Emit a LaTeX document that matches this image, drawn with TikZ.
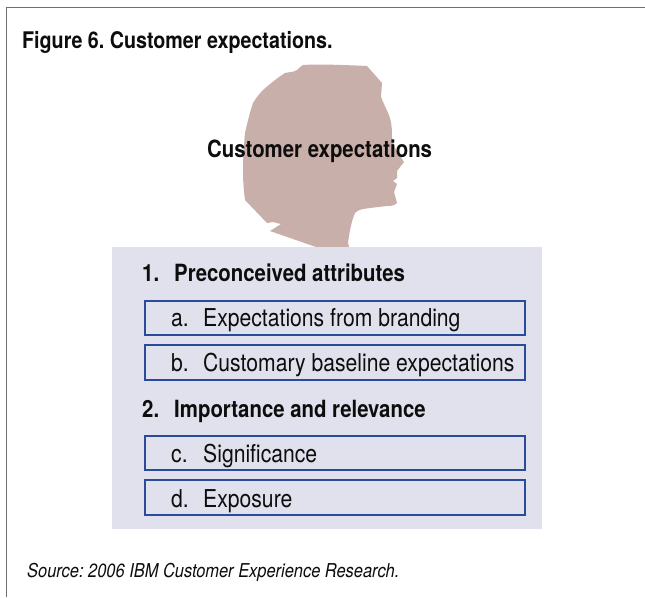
\documentclass[tikz,border=0pt]{standalone}
\usepackage{fontspec}
\setmainfont[FakeStretch=0.86]{TeX Gyre Heros}
\frenchspacing
\definecolor{headc}{HTML}{C9AFA9}
\definecolor{panelc}{HTML}{E1E1ED}
\definecolor{boxc}{HTML}{2A4B9B}
\definecolor{framec}{HTML}{707070}
\tikzset{
  boldtext/.style={font=\fontsize{23.7}{26}\selectfont\bfseries,anchor=base west,inner sep=0pt,text=black!95},
  itemtext/.style={font=\fontsize{24.6}{27}\selectfont,anchor=base west,inner sep=0pt,text=black!95},
  itembox/.style={draw=boxc,line width=2.2pt,fill=panelc,minimum width=380pt,minimum height=34.5pt,inner sep=0pt,anchor=north west}
}
\begin{document}
\begin{tikzpicture}[x=1pt,y=-1pt]
\useasboundingbox (0,0) rectangle (645,597);
\fill[white] (0,0) rectangle (645,597);
\draw[framec,line width=1.2pt] (6.5,597) -- (6.5,7.5) -- (645,7.5);
\fill[headc] (303,65) .. controls (320,64) and (345,65) .. (367,66) -- (382,83) -- (381,97)
  .. controls (385,107) and (388,112) .. (390,118) .. controls (392,125) and (392,132) .. (392,140)
  -- (396,150) -- (404,162) -- (397,171) -- (397,178) -- (393,181) -- (397,184) -- (394,192)
  -- (397,203) .. controls (394,206) and (390,206) .. (387,206) .. controls (378,207) and (370,208) .. (363,209)
  .. controls (358,210) and (356,212) .. (355,213) .. controls (352,220) and (350,228) .. (348,243)
  -- (349,247) -- (316,247) -- (270,231) -- (281,224) -- (273,222) -- (267,223) -- (245,200)
  .. controls (243,185) and (243,175) .. (243,167) .. controls (243,155) and (244,145) .. (245,133)
  .. controls (248,120) and (250,112) .. (253,103) .. controls (256,98) and (260,93) .. (263,90)
  .. controls (270,84) and (277,78) .. (285,73) .. controls (290,72) and (294,72) .. (297,70)
  .. controls (299,68) and (301,66) .. (303,65) -- cycle;
\fill[panelc] (112,247) rectangle (542,529);
\node[boldtext,font=\fontsize{22.9}{26}\selectfont\bfseries] (title) at (22,48) {Figure 6. Customer expectations.};
\node[boldtext] (head) at (207,157) {Customer expectations};
\node[boldtext] (h1) at (142,281) {1.};
\node[boldtext] (h1t) at (174,281) {Preconceived attributes};
\node[itembox] (ba) at (144,299.5) {};
\node[itembox] (bb) at (144,344) {};
\node[itemtext] (la) at (171,326) {a.};
\node[itemtext] (ta) at (203,326) {Expectations from branding};
\node[itemtext] (lb) at (171,371) {b.};
\node[itemtext] (tb) at (203,371) {Customary baseline expectations};
\node[boldtext] (h2) at (142,417) {2.};
\node[boldtext] (h2t) at (174,417) {Importance and relevance};
\node[itembox] (bc) at (144,434.5) {};
\node[itembox] (bd) at (144,479) {};
\node[itemtext] (lc) at (171,462) {c.};
\node[itemtext] (tc) at (203,462) {Significance};
\node[itemtext] (ld) at (171,507) {d.};
\node[itemtext] (td) at (203,507) {Exposure};
\node[itemtext,font=\fontsize{19.1}{22}\selectfont\itshape] (src) at (27,577) {Source: 2006 IBM Customer Experience Research.};
\end{tikzpicture}
\end{document}
